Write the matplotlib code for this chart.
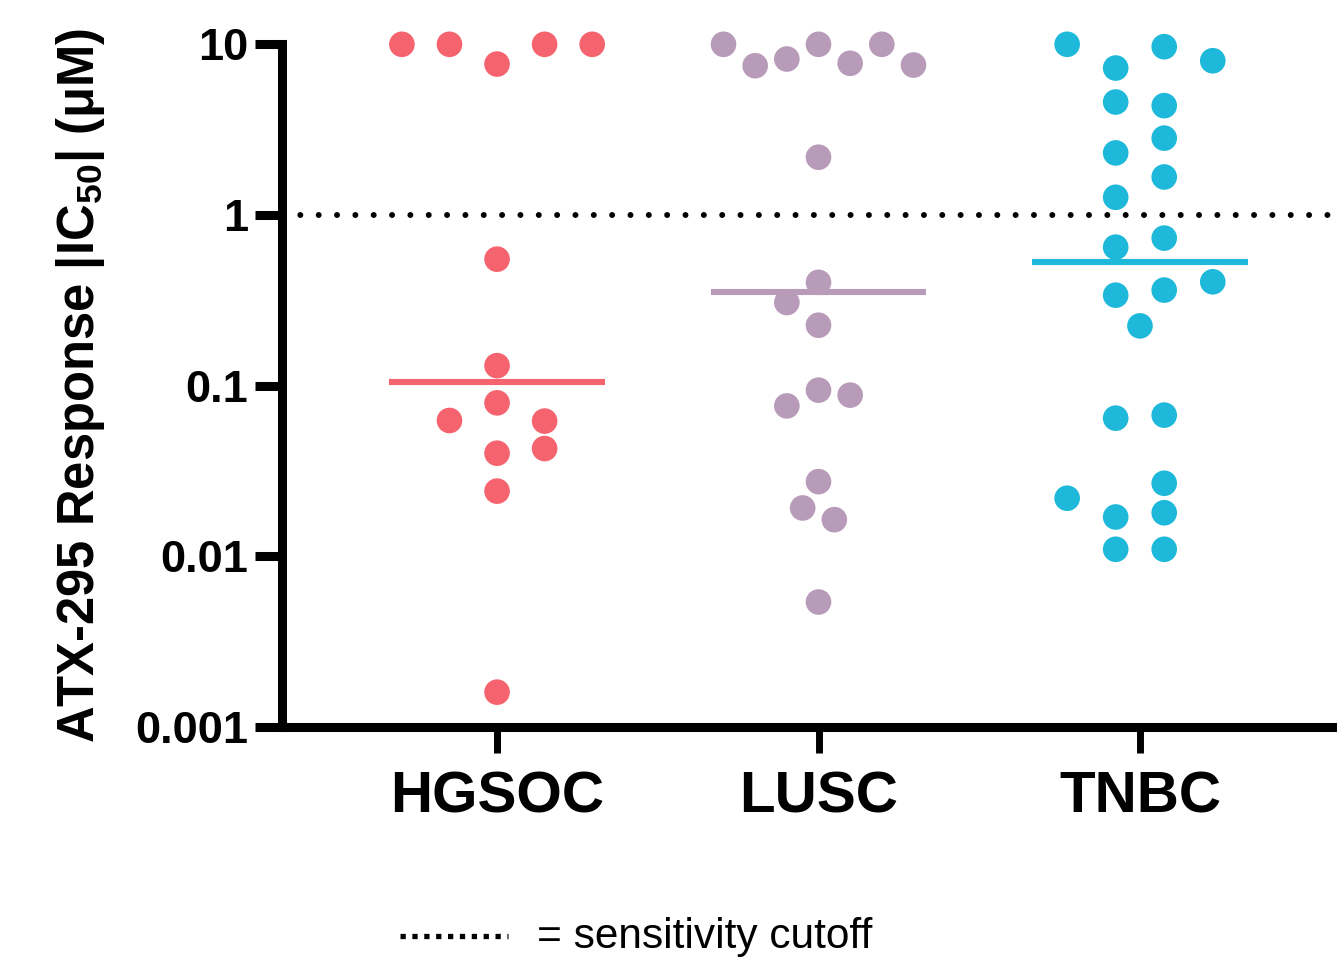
import numpy as np
import matplotlib
matplotlib.use("Agg")
import matplotlib.pyplot as plt
from matplotlib.lines import Line2D

plt.rcParams['font.family'] = ['Liberation Sans', 'DejaVu Sans']
plt.rcParams['mathtext.fontset'] = 'custom'
plt.rcParams['mathtext.bf'] = 'Liberation Sans:bold'
plt.rcParams['mathtext.rm'] = 'Liberation Sans:bold'
plt.rcParams['mathtext.default'] = 'bf'

# données (IC50, µM)
groupes = ["HGSOC", "LUSC", "TNBC"]
couleurs = ["#F5636F", "#B89BB9", "#1DB8DA"]

hgsoc = [10, 10, 7.66, 10, 10, 0.551, 0.131, 0.0793, 0.0625, 0.062,
         0.0428, 0.0402, 0.0241, 0.0016]
lusc = [10, 7.49, 8.2, 10, 7.74, 10, 7.56, 2.18, 0.403, 0.307, 0.226,
        0.0941, 0.088, 0.0761, 0.0274, 0.0192, 0.0164, 0.0054]
tnbc = [10, 9.68, 8.01, 7.26, 4.59, 4.37, 2.82, 2.31, 1.67, 1.27, 0.732,
        0.648, 0.406, 0.363, 0.339, 0.224, 0.0672, 0.0645, 0.0268, 0.0219,
        0.018, 0.017, 0.011, 0.011]
valeurs = [hgsoc, lusc, tnbc]

# disposition en essaim : colonne de chaque point et largeur d'une colonne
colonnes_hgsoc = [-2, -1, 0, 1, 2, 0, 0, 0, -1, 1, 1, 0, 0, 0]
colonnes_lusc = [-3, -2, -1, 0, 1, 2, 3, 0, 0, -1, 0, 0, 1, -1, 0, -0.5, 0.5, 0]
colonnes_tnbc = [-1.5, 0.5, 1.5, -0.5, -0.5, 0.5, 0.5, -0.5, 0.5, -0.5, 0.5,
                 -0.5, 1.5, 0.5, -0.5, 0, 0.5, -0.5, 0.5, -1.5, 0.5, -0.5,
                 -0.5, 0.5]
colonnes = [colonnes_hgsoc, colonnes_lusc, colonnes_tnbc]
pas = [0.148, 0.0985, 0.151]

seuil = 1.0

W, H = 1337, 963
fig = plt.figure(figsize=(W / 100, H / 100), dpi=100)
ax = fig.add_axes([282 / W, (H - 727) / H, (W - 282) / W, (727 - 44.3) / H])

ax.set_yscale('log')
ax.set_ylim(0.001, 10)
ax.set_xlim(-0.669, 2.613)

# ligne de seuil
ax.axhline(seuil, color='black', lw=4.3, ls=(0, (0.001, 3.07)),
           dash_capstyle='round', zorder=1)

for i, g in enumerate(groupes):
    v = np.array(valeurs[i])
    x = i + np.array(colonnes[i]) * pas[i]
    ax.hlines(np.median(v), i - 0.335, i + 0.335, color=couleurs[i], lw=4.4, zorder=2)
    ax.scatter(x, v, s=340, color=couleurs[i], edgecolors='none', zorder=3, clip_on=False)

for s in ['top', 'right']:
    ax.spines[s].set_visible(False)
for s in ['left', 'bottom']:
    ax.spines[s].set_linewidth(6.5)

ax.set_yticks([0.001, 0.01, 0.1, 1, 10])
ax.set_yticklabels(["0.001", "0.01", "0.1", "1", "10"])
ax.yaxis.set_minor_locator(matplotlib.ticker.NullLocator())
ax.set_xticks(range(len(groupes)))
ax.set_xticklabels(groupes)

ax.tick_params(axis='y', length=19.5, width=6.5, pad=5, labelsize=32.5)
ax.tick_params(axis='x', length=19, width=5, pad=12, labelsize=42)
for t in ax.get_xticklabels() + ax.get_yticklabels():
    t.set_fontweight('bold')

ax.set_ylabel(r"ATX-295 Response |IC$_{50}$| (μM)", fontsize=36.5, fontweight='bold')
ax.yaxis.set_label_coords(-0.166, 0.5)

# légende en bas
fig.add_artist(Line2D([400 / W, 508 / W], [(H - 936) / H] * 2, color='black',
                      lw=3.8, ls=(0, (1.0, 1.25)), dash_capstyle='butt'))
fig.text(537 / W, (H - 937) / H, "= sensitivity cutoff", fontsize=30.5,
         va='center', ha='left')

fig.savefig("out.png", dpi=100)
